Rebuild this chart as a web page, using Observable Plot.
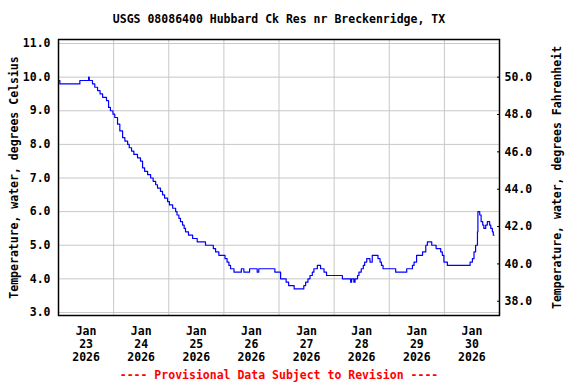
<!DOCTYPE html>
<html><head><meta charset="utf-8">
<script src="https://cdn.jsdelivr.net/npm/d3@7"></script>
<script src="https://cdn.jsdelivr.net/npm/@observablehq/plot@0.6"></script>
<style>body{margin:0;background:#fff}</style>
</head><body><div id="chart"></div>
<script>
const title = "USGS 08086400 Hubbard Ck Res nr Breckenridge, TX";
const yLabelLeft = "Temperature, water, degrees Celsius";
const yLabelRight = "Temperature, water, degrees Fahrenheit";
const footer = "---- Provisional Data Subject to Revision ----";
const startDate = "2026-01-23T00:00:00Z";
const endDate = "2026-01-31T00:00:00Z";
const dayLabels = ["2026-01-23","2026-01-24","2026-01-25","2026-01-26","2026-01-27","2026-01-28","2026-01-29","2026-01-30"];
const dayBoundaries = ["2026-01-24","2026-01-25","2026-01-26","2026-01-27","2026-01-28","2026-01-29","2026-01-30"];
const celsiusTicks = [3,4,5,6,7,8,9,10,11];
const fahrenheitTicks = [38,40,42,44,46,48,50];

// hours since 2026-01-23 00:00 and water temperature (deg C)
const hoursSinceStart = [0,0.6,9.3,13.1,13.4,14.8,15.8,17.0,18.1,19.2,
  20.9,21.8,22.6,23.7,24.5,25.7,26.7,27.9,28.9,30.1,
  30.8,31.8,32.8,34.4,35.7,36.6,37.5,38.8,40.1,41.2,
  42.3,43.1,44.4,45.3,46.2,47.5,48.3,49.7,51.0,51.6,
  52.4,53.1,54.0,54.7,55.3,56.6,58.4,60.4,64.0,67.4,
  68.4,69.8,72.5,73.4,74.2,74.9,76.4,79.6,80.7,83.2,
  86.5,87.2,94.2,96.7,99.1,100.2,102.6,106.8,107.6,108.6,
  109.5,110.5,111.2,112.7,114.1,115.6,116.7,123.6,127.2,127.6,
  128.6,129.1,130.2,130.8,131.8,132.7,133.3,134.2,135.6,136.6,
  139.1,140.0,140.6,141.3,146.8,151.6,154.1,154.8,155.9,158.5,
  159.9,160.6,162.5,164.4,166.4,167.1,167.8,169.3,179.2,180.2,
  180.9,181.6,182.4,182.6,183.4,184.0,184.7,185.2,186.0,186.7,
  187.7,188.2,188.9,189.3,189.6];
const tempC = [9.9,9.8,9.9,10.0,9.9,9.8,9.7,9.6,9.5,9.4,
  9.3,9.1,9.0,8.9,8.8,8.6,8.4,8.2,8.1,8.0,
  7.9,7.8,7.7,7.6,7.5,7.3,7.2,7.1,7.0,6.9,
  6.8,6.7,6.6,6.5,6.4,6.3,6.2,6.1,6.0,5.9,
  5.8,5.7,5.6,5.5,5.4,5.3,5.2,5.1,5.0,4.9,
  4.8,4.7,4.6,4.5,4.4,4.3,4.2,4.3,4.2,4.3,
  4.2,4.3,4.2,4.0,3.9,3.8,3.7,3.8,3.9,4.0,
  4.1,4.2,4.3,4.4,4.3,4.2,4.1,4.0,3.9,4.0,
  3.9,4.0,4.1,4.2,4.3,4.4,4.5,4.6,4.5,4.7,
  4.6,4.5,4.4,4.3,4.2,4.3,4.4,4.5,4.7,4.8,
  5.0,5.1,5.0,4.9,4.8,4.7,4.5,4.4,4.5,4.6,
  4.8,5.0,5.4,6.0,5.9,5.7,5.6,5.5,5.6,5.7,
  5.6,5.5,5.4,5.3,5.3];

const t0 = new Date(startDate).getTime();
const data = hoursSinceStart.map((h, i) => ({date: new Date(t0 + h * 3600000), temp: tempC[i]}));
const noonDates = dayLabels.map(d => new Date(d + "T12:00:00Z"));
const boundaryDates = dayBoundaries.map(d => new Date(d + "T00:00:00Z"));
const f2c = f => (f - 32) * 5 / 9;
const fmtDay = d3.utcFormat("%b\n%d\n%Y");
const font = "'DejaVu Sans Mono', monospace";
const fs = 11.5;

const chart = Plot.plot({
  width: 576,
  height: 384,
  marginTop: 39,
  marginBottom: 69,
  marginLeft: 58,
  marginRight: 77,
  style: {fontFamily: font, fontSize: fs + "px", fontWeight: "bold", background: "#fff", color: "#000"},
  x: {type: "utc", domain: [new Date(startDate), new Date(endDate)]},
  y: {domain: [2.91, 11.12]},
  marks: [
    Plot.gridY(celsiusTicks, {stroke: "#c8c8c8", strokeOpacity: 1}),
    Plot.gridX(boundaryDates, {stroke: "#c8c8c8", strokeOpacity: 1}),
    Plot.axisY(celsiusTicks, {anchor: "left", tickSize: 0, tickPadding: 8, tickFormat: d3.format(".1f"), label: null, fontSize: fs}),
    Plot.axisY(fahrenheitTicks.map(f2c), {anchor: "right", tickSize: -3, tickPadding: 8, tickFormat: c => d3.format(".1f")(c * 9 / 5 + 32), label: null, fontSize: fs}),
    Plot.axisX(noonDates, {anchor: "bottom", tickSize: 0, tickPadding: 10, tickFormat: fmtDay, lineAnchor: "top", lineHeight: 1.13, label: null, fontSize: fs}),
    Plot.line(data, {x: "date", y: "temp", curve: "step-after", stroke: "#0000ff", strokeWidth: 1.2}),
    Plot.frame({stroke: "#000", strokeWidth: 1.5}),
    Plot.text([title], {text: d => d, frameAnchor: "top", lineAnchor: "middle", dy: -20, fontSize: fs}),
    Plot.text([footer], {text: d => d, frameAnchor: "bottom", lineAnchor: "middle", dy: 60, fill: "#ff0000", fontSize: fs}),
    Plot.text([yLabelLeft], {text: d => d, frameAnchor: "left", textAnchor: "middle", lineAnchor: "middle", dx: -44, rotate: -90, fontSize: fs}),
    Plot.text([yLabelRight], {text: d => d, frameAnchor: "right", textAnchor: "middle", lineAnchor: "middle", dx: 58, rotate: -90, fontSize: fs})
  ]
});
document.getElementById("chart").appendChild(chart);
</script>
</body></html>
